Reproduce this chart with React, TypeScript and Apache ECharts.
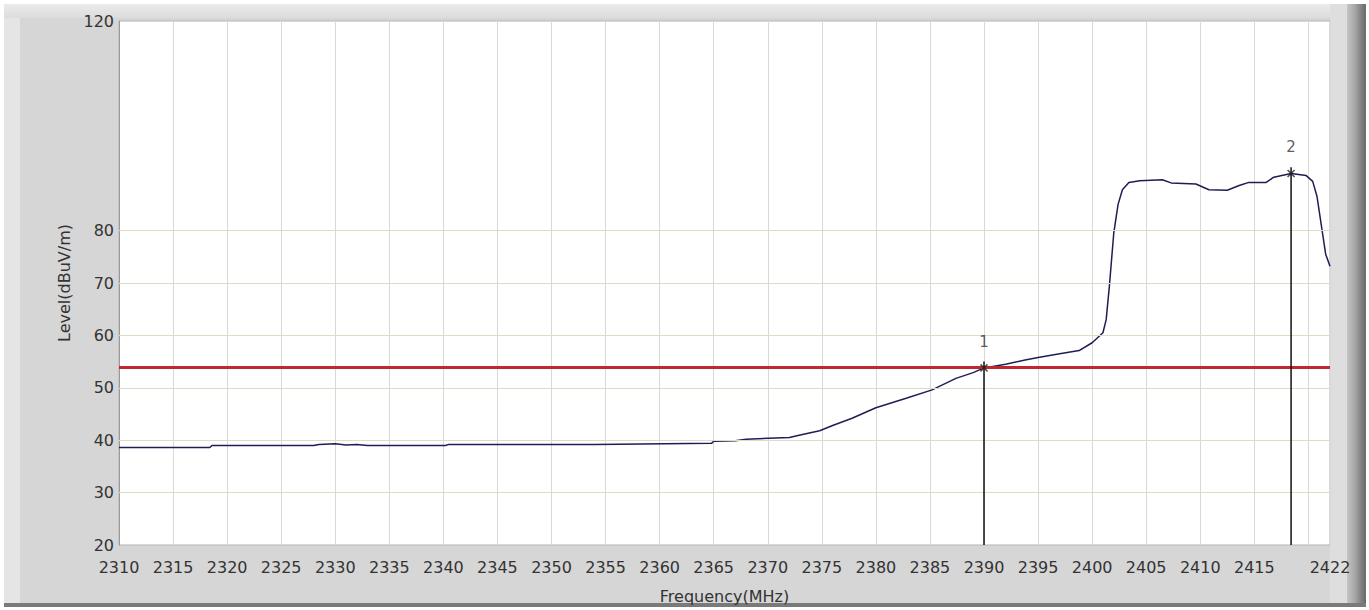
import React, { useEffect, useRef } from "react";
import * as echarts from "echarts";

// Trace (frequency in MHz, level in dBuV/m)
const freqs = [
  2310, 2318.4, 2318.6, 2328, 2328.5, 2330, 2331, 2332, 2333, 2340.2, 2340.5, 2354,
  2364.8, 2365, 2367, 2368, 2372, 2373, 2374.8, 2376, 2377.8, 2380, 2382.8, 2385.2,
  2387.4, 2389, 2390, 2392, 2393.8, 2395, 2397, 2398.8, 2400, 2401, 2401.3, 2401.6,
  2402, 2402.4, 2402.8, 2403.4, 2404.4, 2406.5, 2407.3, 2409.6, 2410.8, 2412.5,
  2413.6, 2414.5, 2416.1, 2416.8, 2418.4, 2419.8, 2420.4, 2420.8, 2421.2, 2421.6, 2422,
];
const levels = [
  38.6, 38.6, 39.0, 39.0, 39.2, 39.3, 39.1, 39.2, 39.0, 39.0, 39.2, 39.2,
  39.4, 39.8, 39.9, 40.2, 40.5, 41.0, 41.8, 42.8, 44.2, 46.2, 48.0, 49.6,
  51.8, 52.9, 53.8, 54.5, 55.3, 55.8, 56.5, 57.1, 58.6, 60.5, 63.0, 69.5,
  79.5, 85.0, 87.8, 89.2, 89.5, 89.7, 89.1, 88.9, 87.8, 87.7,
  88.6, 89.2, 89.2, 90.2, 90.9, 90.5, 89.4, 86.5, 81.0, 75.5, 73.2,
];

// Limit line
const limitLevel = 54;

// Markers
const markerNames = ["1", "2"];
const markerFreqs = [2390, 2418.4];
const markerLevels = [53.8, 90.9];

// Axes
const xMin = 2310;
const xMax = 2422;
const xStep = 5;
const xHiddenTicks = [2420];
const yMin = 20;
const yMax = 120;
const yStep = 10;
const yShownTicks = [20, 30, 40, 50, 60, 70, 80, 120];
const yGridLevels = [30, 40, 50, 60, 70, 80];

const FONT = "DejaVu Sans";

export default function App() {
  const ref = useRef<HTMLDivElement>(null);

  useEffect(() => {
    if (!ref.current) return;
    const chart = echarts.init(ref.current, undefined, { renderer: "svg" });

    const trace = freqs.map((f, i) => [f, levels[i]]);

    const markerSeries = markerFreqs.map((f, i) => ({
      type: "line",
      silent: true,
      z: 6,
      symbol: "none",
      data: [
        [f, yMin],
        [f, markerLevels[i] + 1.2],
      ],
      lineStyle: { color: "#111", width: 1.5 },
    }));

    const markerLabels = {
      type: "scatter",
      silent: true,
      z: 8,
      symbol: "circle",
      symbolSize: 1,
      itemStyle: { color: "rgba(0,0,0,0)" },
      label: {
        show: true,
        position: "top",
        distance: 12,
        fontSize: 15,
        color: "#333",
        fontFamily: FONT,
        formatter: (p: any) => markerNames[p.dataIndex],
      },
      data: markerFreqs.map((f, i) => [f, markerLevels[i] + 1.2]),
    };

    const markerCross = {
      type: "scatter",
      silent: true,
      z: 7,
      symbol: "path://M0,0L10,10M10,0L0,10",
      symbolSize: 7,
      itemStyle: { color: "none", borderColor: "#222", borderWidth: 1.5 },
      data: markerFreqs.map((f, i) => [f, markerLevels[i]]),
    };

    chart.setOption({
      animation: false,
      backgroundColor: "transparent",
      grid: {
        left: 119,
        top: 21,
        right: 39,
        bottom: 65,
        show: true,
        backgroundColor: "#ffffff",
        borderColor: "#b4b4b4",
        borderWidth: 1,
      },
      xAxis: {
        type: "value",
        min: xMin,
        max: xMax,
        interval: xStep,
        name: "Frequency(MHz)",
        nameLocation: "middle",
        nameGap: 43,
        nameTextStyle: { fontSize: 16, color: "#333", fontFamily: FONT },
        axisLine: { show: false },
        axisTick: { show: false },
        axisLabel: {
          fontSize: 16,
          color: "#333",
          fontFamily: FONT,
          margin: 14,
          showMaxLabel: true,
          formatter: (v: number) => (xHiddenTicks.includes(v) ? "" : String(v)),
        },
        splitLine: { show: true, lineStyle: { color: "#dadad4", width: 1 } },
      },
      yAxis: {
        type: "value",
        min: yMin,
        max: yMax,
        interval: yStep,
        name: "Level(dBuV/m)",
        nameLocation: "middle",
        nameGap: 44,
        nameRotate: 90,
        nameTextStyle: { fontSize: 16, color: "#333", fontFamily: FONT },
        axisLine: { show: true, lineStyle: { color: "#9a9a9a", width: 1 } },
        axisTick: { show: false },
        axisLabel: {
          fontSize: 16,
          color: "#333",
          fontFamily: FONT,
          margin: 5,
          formatter: (v: number) => (yShownTicks.includes(v) ? String(v) : ""),
        },
        splitLine: { show: false },
      },
      series: [
        {
          type: "line",
          silent: true,
          z: 1,
          data: [],
          markLine: {
            silent: true,
            symbol: "none",
            label: { show: false },
            lineStyle: { color: "#dedbc6", width: 1, type: "solid" },
            data: yGridLevels.map((v) => ({ yAxis: v })),
          },
        },
        {
          type: "line",
          silent: true,
          z: 4,
          showSymbol: false,
          symbol: "none",
          data: trace,
          lineStyle: { color: "#1e1e55", width: 1.5 },
        },
        {
          type: "line",
          silent: true,
          z: 5,
          data: [],
          markLine: {
            silent: true,
            symbol: "none",
            label: { show: false },
            lineStyle: { color: "#c0272e", width: 3, type: "solid" },
            data: [{ yAxis: limitLevel }],
          },
        },
        ...markerSeries,
        markerCross,
        markerLabels,
      ],
    });

    return () => chart.dispose();
  }, []);

  const abs = (s: React.CSSProperties): React.CSSProperties => ({ position: "absolute", ...s });

  return (
    <div style={{ position: "fixed", left: 0, top: 0, width: 1369, height: 610, background: "#ffffff", overflow: "hidden" }}>
      <div style={abs({ left: 4, top: 4, width: 1362, height: 602, background: "#d6d6d6" })} />
      <div style={abs({ left: 4, top: 4, width: 16, height: 602, background: "#e5e5e5" })} />
      <div style={abs({ left: 4, top: 4, width: 1362, height: 14, background: "linear-gradient(#ebebeb, #dcdcdc)" })} />
      <div style={abs({ left: 1330, top: 4, width: 17, height: 602, background: "#dedede" })} />
      <div style={abs({ left: 1347, top: 4, width: 19, height: 602, background: "linear-gradient(to right, #c4c4c4, #a8a8a8 40%, #7c7c7c 80%, #6a6a6a)" })} />
      <div style={abs({ left: 4, top: 603, width: 1362, height: 4, background: "#7a7a7a" })} />
      <div ref={ref} style={abs({ left: 0, top: 0, width: 1369, height: 610 })} />
    </div>
  );
}
